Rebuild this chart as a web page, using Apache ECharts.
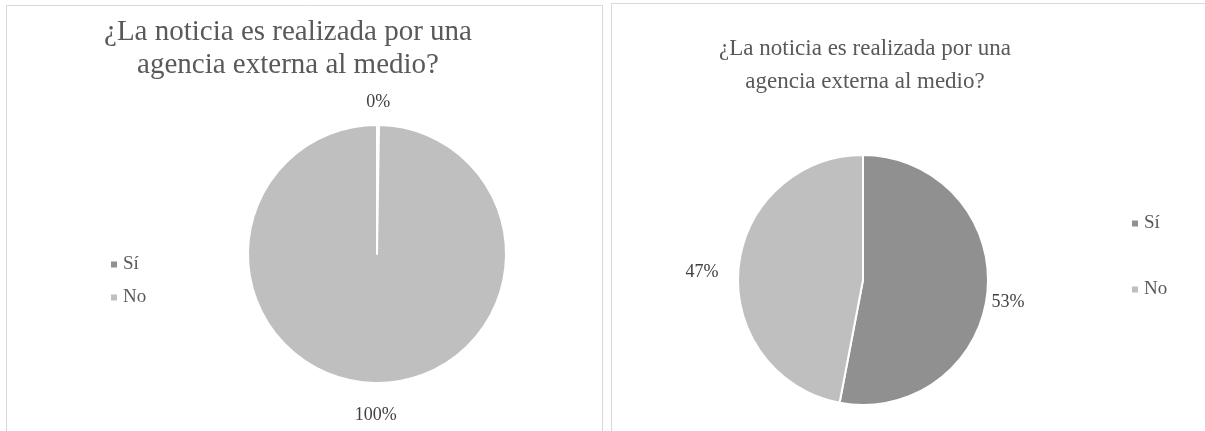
<!DOCTYPE html>
<html>
<head>
<meta charset="utf-8">
<script src="https://cdn.jsdelivr.net/npm/echarts@6/dist/echarts.min.js"></script>
<style>
html,body{margin:0;padding:0;background:#fff;}
#c{width:1205px;height:431px;}
</style>
</head>
<body>
<div id="c"></div>
<script>
// ---- data ----
const titleText = "¿La noticia es realizada por una\nagencia externa al medio?";
const categories = ["Sí", "No"];
const leftValues = [0, 100];
const rightValues = [53, 47];
const sliceColors = ["#909090", "#bfbfbf"];

// label nudges (style only, not data)
const leftLabelShift = [[-17, -3], [26, 12]];
const rightLabelShift = [[-5, 10], [-11, 4]];

const chart = echarts.init(document.getElementById('c'), null, {renderer: 'canvas'});
const FONT = '"Liberation Serif", "Times New Roman", serif';

function mkData(vals) {
  return categories.map((c, i) => ({name: c, value: vals[i], itemStyle: {color: sliceColors[i]}}));
}
function shiftFn(shifts) {
  return function (p) { const s = shifts[p.dataIndex] || [0, 0]; return {dx: s[0], dy: s[1]}; };
}

const option = {
  animation: false,
  backgroundColor: '#ffffff',
  graphic: [
    {type: 'rect', shape: {x: 6.5, y: 5.5, width: 596, height: 440}, style: {fill: '#fff', stroke: '#d9d9d9', lineWidth: 1}, z: -10},
    {type: 'rect', shape: {x: 611.5, y: 3.5, width: 600, height: 440}, style: {fill: '#fff', stroke: '#d9d9d9', lineWidth: 1}, z: -10}
  ],
  title: [
    {text: titleText, left: 283, top: 11, textAlign: 'center',
     textStyle: {fontFamily: FONT, fontWeight: 'normal', fontSize: 29, color: '#595959', lineHeight: 33}},
    {text: titleText, left: 860, top: 27, textAlign: 'center',
     textStyle: {fontFamily: FONT, fontWeight: 'normal', fontSize: 23, color: '#595959', lineHeight: 33}}
  ],
  legend: [
    {orient: 'vertical', left: 104, top: 250, itemWidth: 8, itemHeight: 8, itemGap: 14, icon: 'rect',
     data: categories, selectedMode: false,
     textStyle: {fontFamily: FONT, fontSize: 19, color: '#595959'}},
    {orient: 'vertical', left: 1125, top: 209, itemWidth: 8, itemHeight: 8, itemGap: 47, icon: 'rect',
     data: categories, selectedMode: false,
     textStyle: {fontFamily: FONT, fontSize: 19, color: '#595959'}}
  ],
  series: [
    {
      type: 'pie', center: [377, 254], radius: 129, startAngle: 90, clockwise: true, minAngle: 0.9,
      data: mkData(leftValues),
      itemStyle: {borderColor: '#ffffff', borderWidth: 2},
      label: {show: true, position: 'outside', formatter: '{d}%', fontFamily: FONT, fontSize: 18, color: '#404040'},
      labelLine: {show: false, length: 20, length2: 0},
      labelLayout: shiftFn(leftLabelShift),
      emphasis: {disabled: true}
    },
    {
      type: 'pie', center: [863, 280], radius: 125, startAngle: 90, clockwise: true,
      data: mkData(rightValues),
      itemStyle: {borderColor: '#ffffff', borderWidth: 2},
      label: {show: true, position: 'outside', formatter: '{d}%', fontFamily: FONT, fontSize: 18, color: '#404040'},
      labelLine: {show: false, length: 4, length2: 0},
      labelLayout: shiftFn(rightLabelShift),
      emphasis: {disabled: true}
    }
  ]
};
chart.setOption(option);
</script>
</body>
</html>
